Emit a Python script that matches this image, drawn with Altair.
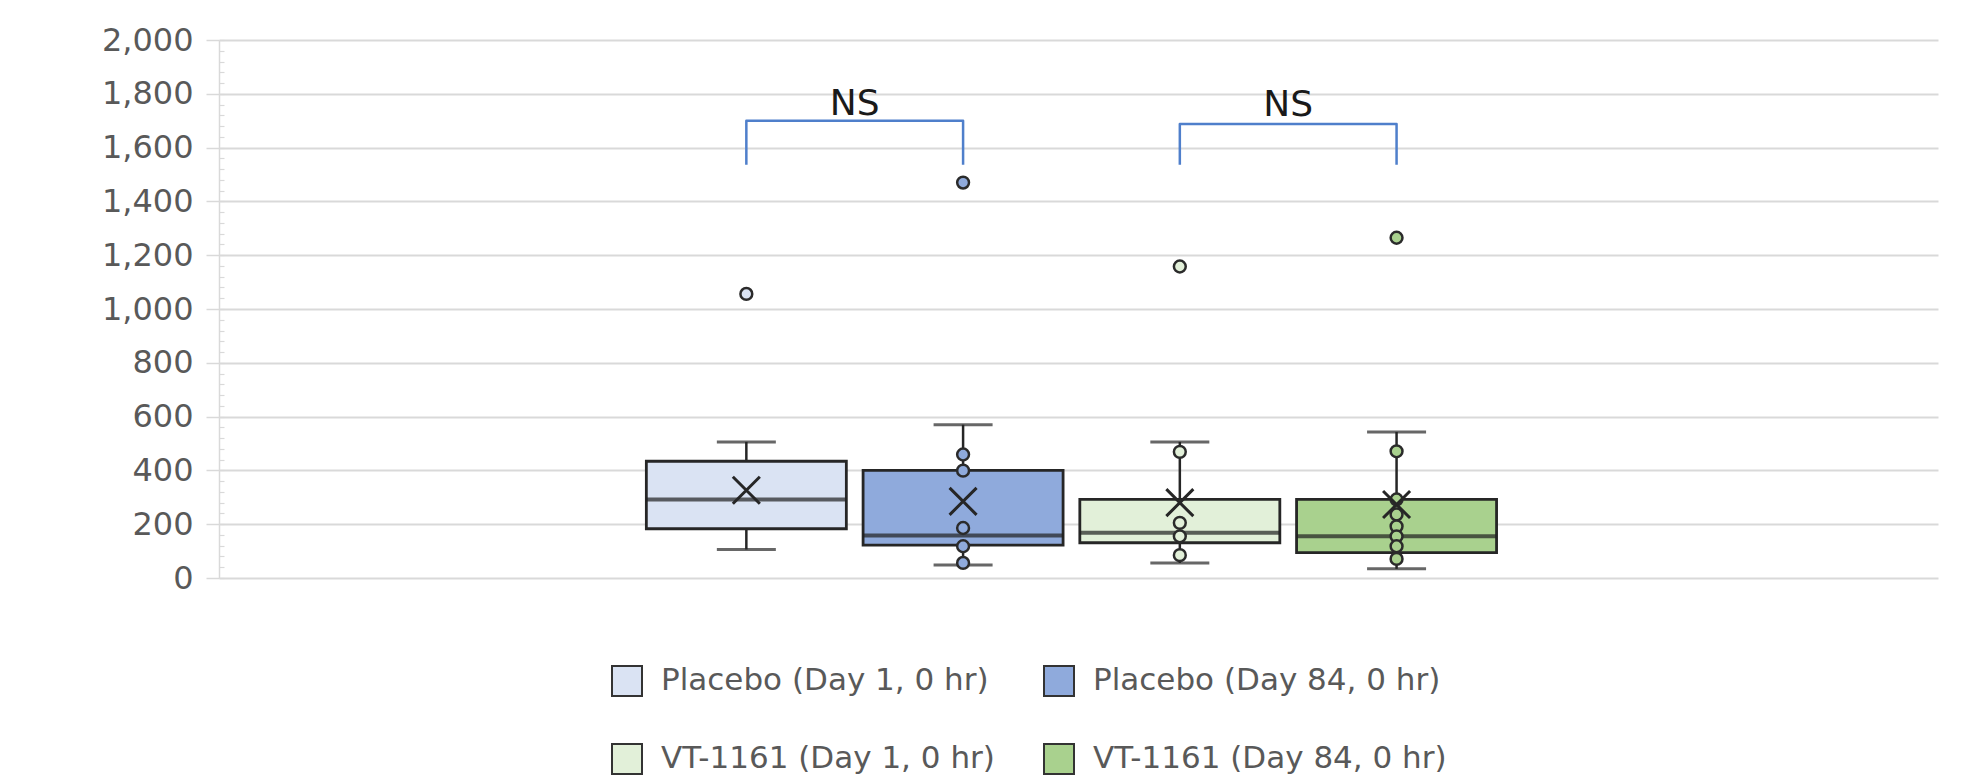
import altair as alt
import pandas as pd

# ---------------- data ----------------
series = [
    "Placebo (Day 1, 0 hr)",
    "Placebo (Day 84, 0 hr)",
    "VT-1161 (Day 1, 0 hr)",
    "VT-1161 (Day 84, 0 hr)",
]
colors = ["#DAE3F3", "#8FAADC", "#E2F0D9", "#A9D18E"]

whisker_low = [106, 48, 56, 34]
q1 = [183, 122, 131, 94]
median = [292, 158, 168, 155]
q3 = [434, 400, 292, 292]
whisker_high = [506, 570, 506, 543]
mean = [326, 285, 280, 273]

points_placebo_d1 = [1056]
points_placebo_d84 = [1470, 459, 399, 186, 118, 56]
points_vt_d1 = [1158, 469, 205, 155, 85]
points_vt_d84 = [1265, 471, 292, 236, 192, 155, 118, 71]

bracket_left = [0, 2]
bracket_right = [1, 3]
bracket_low = [1536, 1536]
bracket_high = [1700, 1688]
bracket_label = ["NS", "NS"]
bracket_label_y = [1722, 1718]

y_ticks = list(range(0, 2001, 200))
y_minor = list(range(0, 2001, 40))

# ---------------- tables ----------------
stats = pd.DataFrame({
    "idx": list(range(len(series))),
    "series": series,
    "wlo": whisker_low, "q1": q1, "med": median, "q3": q3,
    "whi": whisker_high, "mean": mean,
})

pts_rows = []
for i, lst in enumerate([points_placebo_d1, points_placebo_d84, points_vt_d1, points_vt_d84]):
    for v in lst:
        pts_rows.append({"idx": i, "series": series[i], "v": v})
pts = pd.DataFrame(pts_rows)

br_rows = []
for b in range(len(bracket_left)):
    seq = [(bracket_left[b], bracket_low[b]), (bracket_left[b], bracket_high[b]),
           (bracket_right[b], bracket_high[b]), (bracket_right[b], bracket_low[b])]
    for k, (xx, yy) in enumerate(seq):
        br_rows.append({"b": b, "k": k, "idx": xx, "v": yy})
br = pd.DataFrame(br_rows)

ns = pd.DataFrame({
    "idx": [(l + r) / 2 for l, r in zip(bracket_left, bracket_right)],
    "v": bracket_label_y,
    "t": bracket_label,
})

minor_df = pd.DataFrame({"v": y_minor})

# ---------------- scales / encodings ----------------
W, H = 1719, 538
FONT = "DejaVu Sans"
xscale = alt.Scale(domain=[-2.41, 5.475], nice=False, zero=False)
yscale = alt.Scale(domain=[0, 2000], nice=False, zero=False)
X = alt.X("idx:Q", scale=xscale, axis=None)
fill_scale = alt.Scale(domain=series, range=colors)

yaxis = alt.Axis(
    values=y_ticks, format=",d", title=None,
    labelFont=FONT, labelFontSize=32, labelColor="#595959", labelPadding=13,
    tickSize=13, tickColor="#D9D9D9", tickWidth=1.5,
    domainColor="#D9D9D9", domainWidth=1.5,
    gridColor="#D9D9D9", gridWidth=1.8,
)

base = alt.Chart(stats)

whisk = base.mark_rule(color="#262626", strokeWidth=2.5).encode(
    x=X, y=alt.Y("wlo:Q", scale=yscale, axis=yaxis), y2="whi:Q")

cap_lo = base.mark_tick(orient="horizontal", size=59, thickness=3, color="#262626").encode(
    x=X, y=alt.Y("wlo:Q", scale=yscale))
cap_hi = base.mark_tick(orient="horizontal", size=59, thickness=3, color="#262626").encode(
    x=X, y=alt.Y("whi:Q", scale=yscale))

boxes = base.mark_bar(orient="vertical", size=200, stroke="#262626", strokeWidth=2.8).encode(
    x=X, y=alt.Y("q1:Q", scale=yscale), y2="q3:Q",
    fill=alt.Fill("series:N", scale=fill_scale, sort=series, legend=alt.Legend(
        title=None, orient="none", legendX=392, legendY=625, columns=2,
        direction="horizontal",
        columnPadding=45, rowPadding=40, padding=0,
        symbolType="square", symbolSize=900, symbolStrokeColor="#333333",
        symbolStrokeWidth=2, symbolOpacity=1,
        labelFont=FONT, labelFontSize=31, labelColor="#595959",
        labelOffset=18, labelLimit=800, labelBaseline="middle",
    )),
)

med = base.mark_tick(orient="horizontal", size=200, thickness=4, color="#1f1f1f").encode(
    x=X, y=alt.Y("med:Q", scale=yscale))

dots = alt.Chart(pts).mark_circle(size=140, opacity=1, stroke="#2b2b2b", strokeWidth=2.5).encode(
    x=X, y=alt.Y("v:Q", scale=yscale),
    fill=alt.Fill("series:N", scale=fill_scale, legend=None),
)

mean_x = base.mark_point(shape="M-1,-1L1,1M-1,1L1,-1", size=729, filled=False,
                         color="#262626", strokeWidth=3, opacity=1).encode(
    x=X, y=alt.Y("mean:Q", scale=yscale))

brackets = alt.Chart(br).mark_line(color="#4F7FCB", strokeWidth=2.5, strokeJoin="round").encode(
    x=X, y=alt.Y("v:Q", scale=yscale), detail="b:N", order="k:Q")

ns_text = alt.Chart(ns).mark_text(font=FONT, fontSize=36, color="#1a1a1a",
                                  baseline="alphabetic", align="center").encode(
    x=X, y=alt.Y("v:Q", scale=yscale), text="t:N")

main = alt.layer(whisk, cap_lo, cap_hi, boxes, med, dots, mean_x, brackets, ns_text)

minor = alt.Chart(minor_df).mark_point(opacity=0).encode(
    y=alt.Y("v:Q", scale=alt.Scale(domain=[0, 2000], nice=False, zero=False),
            axis=alt.Axis(orient="right", offset=-W, values=y_minor, labels=False,
                          domain=False, grid=False, ticks=True, tickSize=5,
                          tickColor="#D9D9D9", tickWidth=1.2, title=None)))

chart = alt.layer(main, minor).resolve_scale(y="independent").resolve_axis(y="independent").properties(
    width=W, height=H,
    padding={"left": 211, "top": 32, "right": 17, "bottom": 198},
    autosize=alt.AutoSizeParams(type="none"),
    background="white",
).configure_view(stroke=None)

chart.save("out.html", embed_options={"renderer": "svg", "actions": False})
